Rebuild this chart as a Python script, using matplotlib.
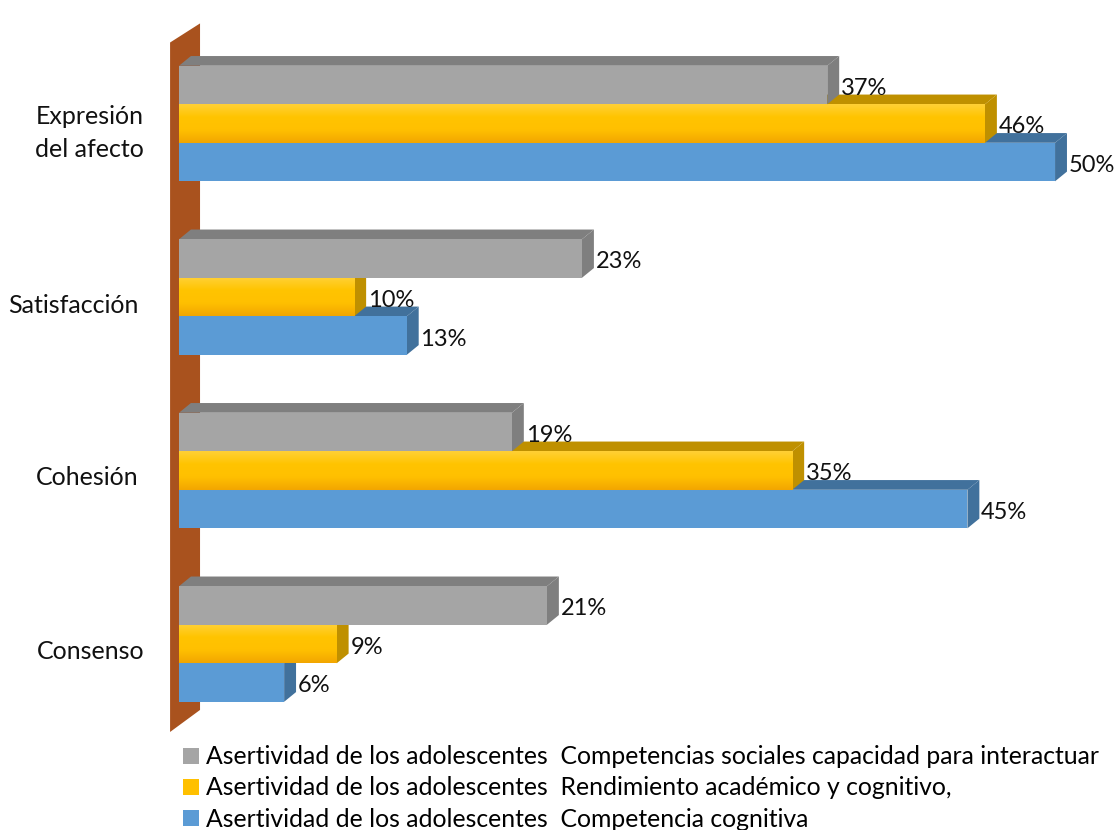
import numpy as np
import matplotlib
matplotlib.use("Agg")
import matplotlib.pyplot as plt
from matplotlib.patches import Polygon, Patch
from matplotlib.colors import LinearSegmentedColormap

plt.rcParams['font.family'] = ['Lato', 'DejaVu Sans']

# Data
categories = ['Expresión\ndel afecto', 'Satisfacción', 'Cohesión', 'Consenso']
series_names = [
    'Asertividad de los adolescentes  Competencias sociales capacidad para interactuar',
    'Asertividad de los adolescentes  Rendimiento académico y cognitivo,',
    'Asertividad de los adolescentes  Competencia cognitiva',
]
social = [37, 23, 19, 21]
academico = [46, 10, 35, 9]
cognitiva = [50, 13, 45, 6]
series = [social, academico, cognitiva]

front_colors = ['#A5A5A5', '#FFC000', '#5B9BD5']
dark_colors = ['#7F7F7F', '#BF9000', '#41719C']
yellow_grad = LinearSegmentedColormap.from_list('yg', ['#FFD035', '#FFC400', '#FFC000', '#F2A600'])

fig = plt.figure(figsize=(11.19, 8.30), dpi=100)
ax = fig.add_axes([0, 0, 1, 1])
xlim = (-10.217, 53.65)
ylim = (4.072, -0.712)

bar_h = 0.222
dx = 0.68      # depth in x (percent units)
dy = -0.056    # depth in y (category units)
y = np.arange(len(categories))
offsets = [-bar_h, 0, bar_h]

# back wall
wall = Polygon([(-0.51, -0.467), (1.2, -0.577), (1.2, 3.38), (-0.51, 3.507)],
               closed=True, facecolor='#A9521E', edgecolor='none', zorder=0)
ax.add_patch(wall)

grad = np.linspace(0, 1, 50).reshape(-1, 1)

# draw bottom series first so the upper bars overlap correctly
for k in [2, 1, 0]:
    vals = series[k]
    yc = y + offsets[k]
    z = 1 + (3 - k)
    for i, v in enumerate(vals):
        top = yc[i] - bar_h / 2
        bot = yc[i] + bar_h / 2
        top_face = Polygon([(0, top), (v, top), (v + dx, top + dy), (0 + dx, top + dy)],
                           closed=True, facecolor=dark_colors[k], edgecolor='none', zorder=z)
        side_face = Polygon([(v, top), (v + dx, top + dy), (v + dx, bot + dy), (v, bot)],
                            closed=True, facecolor=dark_colors[k], edgecolor='none', zorder=z)
        ax.add_patch(top_face)
        ax.add_patch(side_face)
    bars = ax.barh(yc, vals, height=bar_h, color=front_colors[k], edgecolor='none',
                   zorder=z + 0.5)
    if k == 1:
        for rect, v, c in zip(bars, vals, yc):
            im = ax.imshow(grad, extent=[0, v, c + bar_h / 2, c - bar_h / 2], cmap=yellow_grad,
                           aspect='auto', origin='upper', zorder=z + 0.6)
            im.set_clip_path(rect)
    for i, v in enumerate(vals):
        ax.text(v + dx + 0.1, yc[i] + 0.02, f'{v}%', ha='left', va='center',
                fontsize=17, color='#111111', zorder=10)

# category labels
label_x = [-5.11, -6.05, -5.25, -5.02]
label_dy = [0.052, 0.046, 0.043, 0.046]
for i, c in enumerate(categories):
    ax.text(label_x[i], y[i] + label_dy[i], c, ha='center', va='center', fontsize=18,
            color='#111111', linespacing=1.53)

ax.set_xlim(*xlim)
ax.set_ylim(*ylim)
ax.axis('off')

handles = [Patch(facecolor=c, edgecolor='none') for c in front_colors]
fig.legend(handles, series_names, loc='upper left', bbox_to_anchor=(166 / 1119, 1 - 728 / 830),
           frameon=False, fontsize=17.8, handlelength=0.62, handleheight=0.62,
           handletextpad=0.3, labelspacing=0.33, borderpad=0.2)

fig.savefig('out.png', dpi=100)
